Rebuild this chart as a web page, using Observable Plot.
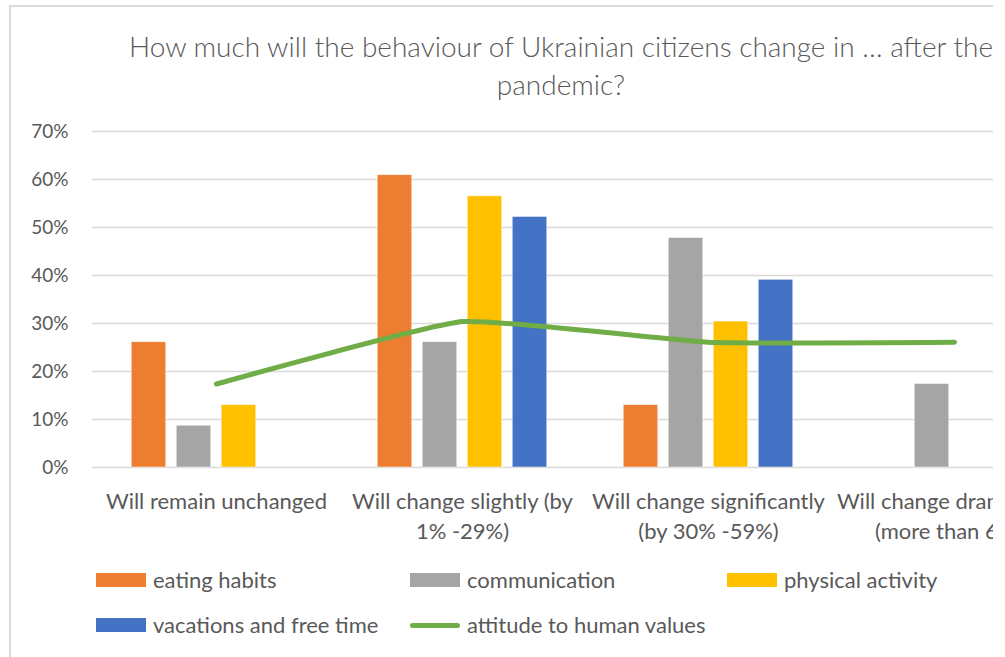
<!DOCTYPE html>
<html>
<head>
<meta charset="utf-8">
<script src="https://cdn.jsdelivr.net/npm/d3@7"></script>
<script src="https://cdn.jsdelivr.net/npm/@observablehq/plot@0.6"></script>
<style>
  html, body { margin: 0; padding: 0; background: #fff; overflow: hidden; }
  #frame { position: relative; width: 993px; height: 657px; overflow: hidden; font-family: Lato, "Open Sans", sans-serif; color: #595959; }
  #border { position: absolute; left: 9px; top: 5px; width: 984px; height: 700px; border-left: 2px solid #d9d9d9; border-top: 2px solid #d9d9d9; }
  #title { position: absolute; left: 0; width: 1122px; top: 27px; text-align: center; font-size: 28px; font-weight: 300; line-height: 38px; color: #595959; white-space: nowrap; }
  #chart { position: absolute; left: 0; top: 0; width: 1100px; }
  #chart svg { max-width: none !important; }
  .lg { position: absolute; font-size: 22px; line-height: 24px; color: #595959; white-space: nowrap; }
  .sw { position: absolute; width: 50px; height: 14px; }
</style>
</head>
<body>
<div id="frame">
  <div id="border"></div>
  <div id="title">How much will the behaviour of Ukrainian citizens change in … after the<br>pandemic?</div>
  <div id="chart"></div>
  <div id="legend"></div>
</div>
<script>
// ---- data ----
const categories = [
  "Will remain unchanged",
  "Will change slightly (by\n1% -29%)",
  "Will change significantly\n(by 30% -59%)",
  "Will change dramatically\n(more than 60%)"
];
const barSeries = ["eating habits", "communication", "physical activity", "vacations and free time"];
const eatingHabits     = [0.261, 0.609, 0.130, 0];
const communication    = [0.087, 0.261, 0.478, 0.174];
const physicalActivity = [0.130, 0.565, 0.304, 0];
const vacations        = [0, 0.522, 0.391, 0];
const lineSeries = "attitude to human values";
const humanValues      = [0.174, 0.304, 0.261, 0.261];
const yTicks = [0, 0.1, 0.2, 0.3, 0.4, 0.5, 0.6, 0.7];
const colors = ["#ED7D31", "#A5A5A5", "#FFC000", "#4472C4"];
const lineColor = "#70AD47";

// ---- build tables ----
const barValues = [eatingHabits, communication, physicalActivity, vacations];
const barData = barSeries.map((s, i) => categories.map((c, j) => ({series: s, cat: c, value: barValues[i][j]})));
const lineData = categories.map((c, j) => ({cat: c, value: humanValues[j]}));
const labelData = categories.map(c => ({cat: c}));

const W = 1100, mL = 92, mR = 22;
const band = (W - mL - mR) / categories.length;
const barW = 35, gap = 10;
const groupW = barSeries.length * barW + (barSeries.length - 1) * gap;
const start = (band - groupW) / 2;

const marks = [
  Plot.gridY(yTicks, {stroke: "#d9d9d9", strokeOpacity: 1, strokeWidth: 1.5}),
  ...barData.map((rows, i) => Plot.barY(rows.filter(d => d.value > 0), {
    x: "cat", y: "value", fill: colors[i],
    stroke: "#fff", strokeOpacity: 0.6, strokeWidth: 0.8,
    insetLeft: start + i * (barW + gap),
    insetRight: band - (start + i * (barW + gap) + barW)
  })),
  Plot.line(lineData, {x: "cat", y: "value", stroke: lineColor, strokeWidth: 5, strokeLinecap: "round", strokeLinejoin: "round", curve: "cardinal", tension: 0.6}),
  Plot.text(labelData, {x: "cat", y: () => 0, text: "cat", lineAnchor: "top", dy: 20, lineHeight: 1.36, fontSize: 22, fill: "#595959"})
];

const chart = Plot.plot({
  width: W,
  height: 560,
  marginLeft: mL,
  marginRight: mR,
  marginTop: 131,
  marginBottom: 93,
  style: {fontFamily: "Lato, 'Open Sans', sans-serif", fontSize: "19px", color: "#595959", background: "transparent", overflow: "visible", maxWidth: "none"},
  x: {domain: categories, padding: 0, axis: null},
  y: {domain: [0, 0.7], ticks: yTicks, tickFormat: d3.format(".0%"), label: null, tickSize: 0, tickPadding: 24},
  marks
});
document.getElementById("chart").appendChild(chart);
chart.querySelectorAll("g[aria-label='y-axis tick label'] text, g[aria-label='y-axis'] text").forEach(t => t.setAttribute("fill", "#595959"));

// ---- legend ----
const legendItems = [
  {label: barSeries[0], color: colors[0], x: 96, y: 573, type: "bar"},
  {label: barSeries[1], color: colors[1], x: 410, y: 573, type: "bar"},
  {label: barSeries[2], color: colors[2], x: 727, y: 573, type: "bar"},
  {label: barSeries[3], color: colors[3], x: 96, y: 618, type: "bar"},
  {label: lineSeries, color: lineColor, x: 410, y: 618, type: "line"}
];
const lg = document.getElementById("legend");
legendItems.forEach(it => {
  const sw = document.createElement("div");
  sw.className = "sw";
  sw.style.left = it.x + "px";
  if (it.type === "bar") {
    sw.style.top = it.y + "px";
    sw.style.background = it.color;
  } else {
    sw.style.top = (it.y + 5) + "px";
    sw.style.height = "5px";
    sw.style.borderRadius = "3px";
    sw.style.background = it.color;
  }
  lg.appendChild(sw);
  const tx = document.createElement("div");
  tx.className = "lg";
  tx.style.left = (it.x + 57) + "px";
  tx.style.top = (it.y - 5) + "px";
  tx.textContent = it.label;
  lg.appendChild(tx);
});
</script>
</body>
</html>
